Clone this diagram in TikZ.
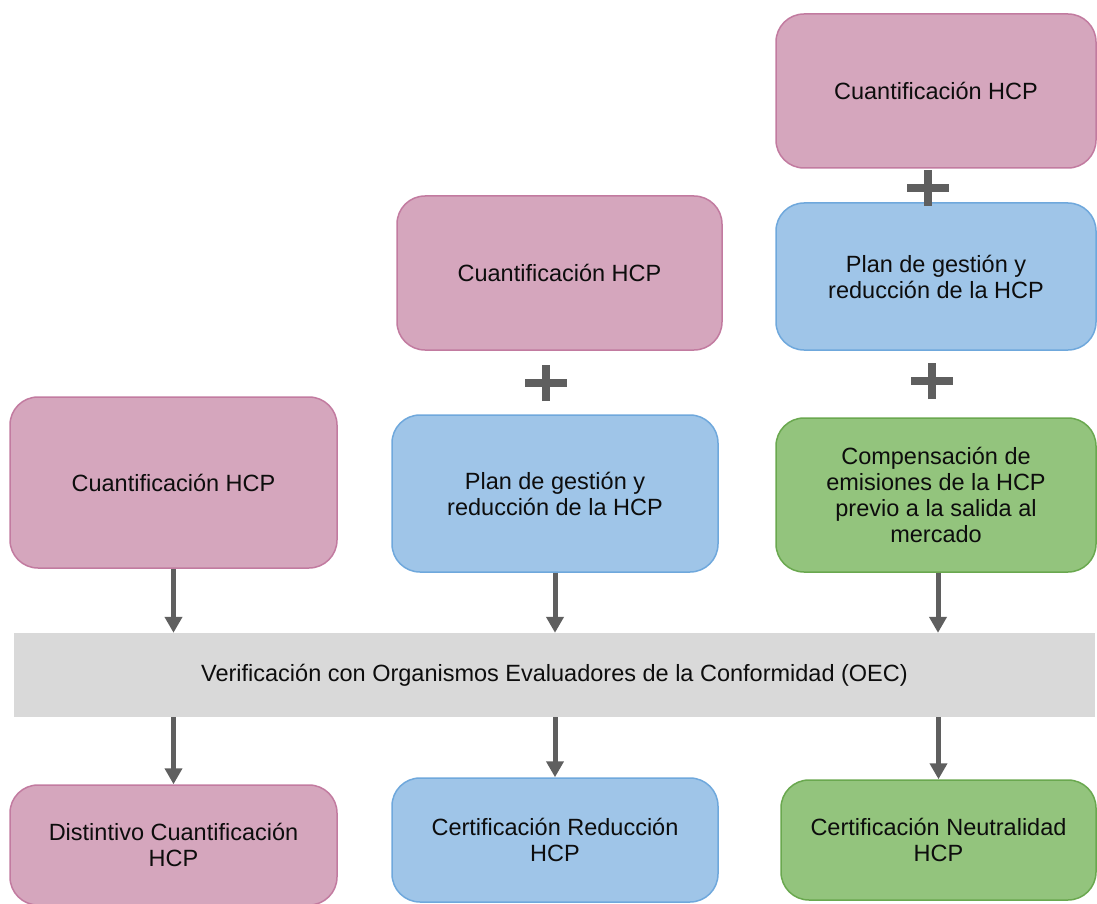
\documentclass[tikz,border=0pt]{standalone}
\usepackage{fontspec}
\setmainfont{Liberation Sans}
\usetikzlibrary{arrows.meta}

\definecolor{pinkfill}{HTML}{D5A6BD}
\definecolor{pinkline}{HTML}{C27BA0}
\definecolor{bluefill}{HTML}{9FC5E8}
\definecolor{blueline}{HTML}{6FA8DC}
\definecolor{greenfill}{HTML}{93C47D}
\definecolor{greenline}{HTML}{6AA84F}
\definecolor{barfill}{HTML}{D9D9D9}
\definecolor{arrowgray}{HTML}{5F5F5F}

\begin{document}
\begin{tikzpicture}[x=1pt, y=-1pt,
  box/.style = {rounded corners=28pt, line width=1.5pt, inner sep=0pt, align=center,
                font=\fontsize{23.5}{26}\selectfont, text=black!95},
  pinkbox/.style = {box, draw=pinkline, fill=pinkfill},
  bluebox/.style = {box, draw=blueline, fill=bluefill},
  greenbox/.style = {box, draw=greenline, fill=greenfill},
  verif/.style = {fill=barfill, inner sep=0pt, minimum width=1081pt, minimum height=84pt,
                  font=\fontsize{23.5}{26}\selectfont, text=black!95},
  flow/.style = {line width=5pt, draw=arrowgray, -{Triangle[width=17pt,length=16pt]}},
  plusline/.style = {line width=8.5pt, draw=arrowgray},
  plus/.style = {inner sep=0pt, minimum size=0pt}]
  \useasboundingbox (0,0) rectangle (1097,904);
  \clip (0,0) rectangle (1097,904);

  % first column
  \node[pinkbox, minimum width=327pt, minimum height=171pt] (cuant1) at (173.5,482.5) {Cuantificación HCP};
  % second column
  \node[pinkbox, minimum width=325pt, minimum height=154pt] (cuant2) at (559.5,273) {Cuantificación HCP};
  \node[bluebox, minimum width=326pt, minimum height=157pt] (plan2) at (555,493.5) {Plan de gestión y\\reducción de la HCP};
  % third column
  \node[pinkbox, minimum width=320pt, minimum height=154pt] (cuant3) at (936,91) {Cuantificación HCP};
  \node[bluebox, minimum width=320pt, minimum height=147pt] (plan3) at (936,276.5) {Plan de gestión y\\reducción de la HCP};
  \node[greenbox, minimum width=320pt, minimum height=154pt] (comp3) at (936,495) {Compensación de\\emisiones de la HCP\\previo a la salida al\\mercado};

  % verification bar
  \node[verif] (oec) at (554.5,675) {Verificación con Organismos Evaluadores de la Conformidad (OEC)};

  % results
  \node[pinkbox, minimum width=327pt, minimum height=120pt] (dist1) at (173.5,845) {Distintivo Cuantificación\\HCP};
  \node[bluebox, minimum width=326pt, minimum height=124pt] (cert2) at (555,840) {Certificación Reducción\\HCP};
  \node[greenbox, minimum width=315pt, minimum height=120pt] (cert3) at (938.5,840) {Certificación Neutralidad\\HCP};

  % plus signs
  \node[plus] (plusA) at (546,383) {};
  \node[plus] (plusB) at (928,188) {};
  \node[plus] (plusC) at (932,381) {};
  \foreach \p in {plusA,plusB,plusC} {
    \draw[plusline] ([xshift=-21pt]\p.center) -- ([xshift=21pt]\p.center);
    \draw[plusline] ([yshift=-18pt]\p.center) -- ([yshift=18pt]\p.center);
  }

  % arrows into and out of the bar
  \draw[flow] (cuant1.south) -- (cuant1.south |- oec.north);
  \draw[flow] (plan2.south) -- (plan2.south |- oec.north);
  \draw[flow] ([xshift=2pt]comp3.south) -- ([xshift=2pt]comp3.south |- oec.north);
  \draw[flow] (oec.south -| dist1.north) -- (dist1.north);
  \draw[flow] (oec.south -| cert2.north) -- (cert2.north);
  \draw[flow] (oec.south -| cert3.north) -- (cert3.north);
\end{tikzpicture}
\end{document}
